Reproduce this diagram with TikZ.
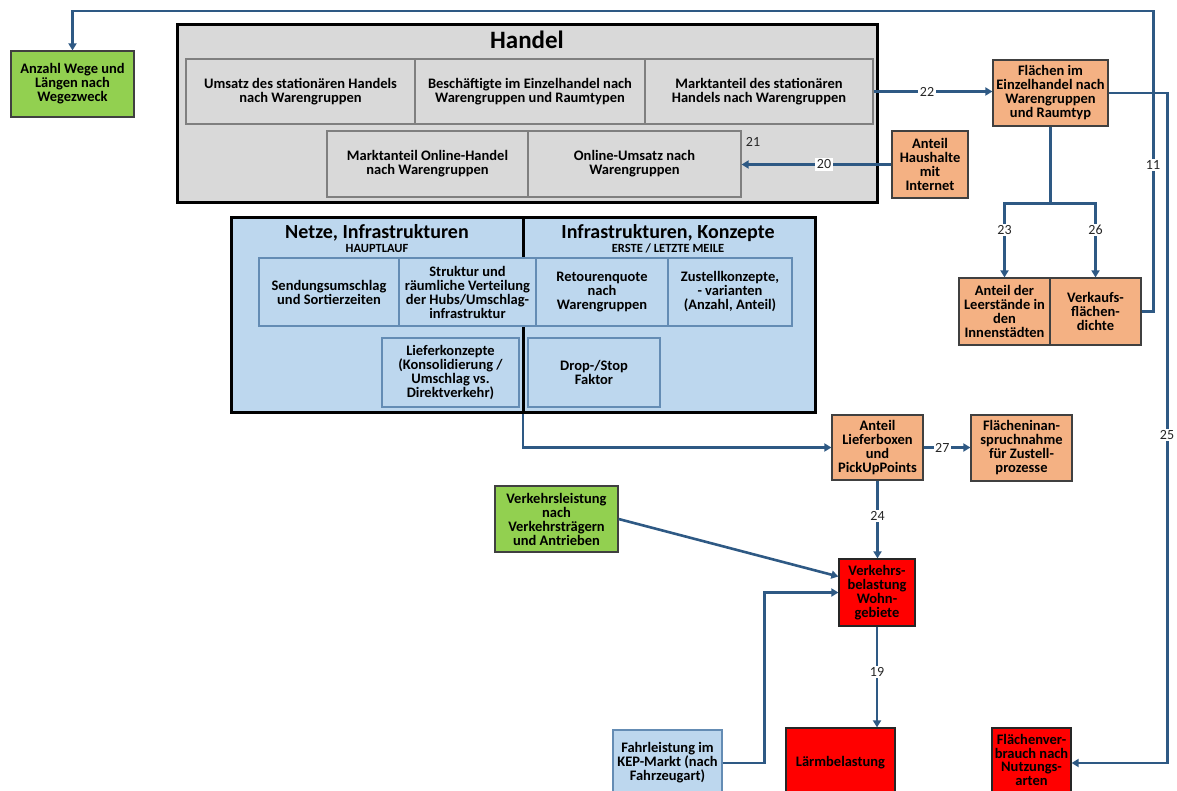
\documentclass[tikz,border=0pt]{standalone}
\usepackage{fontspec}
\setmainfont{Carlito}
\usetikzlibrary{arrows.meta}

\definecolor{handelgray}{HTML}{D9D9D9}
\definecolor{innergray}{HTML}{7F7F7F}
\definecolor{netzblue}{HTML}{BDD7EE}
\definecolor{netzline}{RGB}{100,140,180}
\definecolor{orangefill}{HTML}{F4B183}
\definecolor{greenfill}{HTML}{92D050}
\definecolor{redfill}{HTML}{FF0000}
\definecolor{darkline}{HTML}{404040}
\definecolor{flowblue}{RGB}{46,89,132}

\begin{document}
\begin{tikzpicture}[x=1pt,y=-1pt,
  box/.style={draw, rectangle, inner sep=1pt, align=center, line width=1.2pt,
    font=\bfseries\fontsize{14.5}{14}\selectfont, text=black},
  gbox/.style={box, fill=handelgray, draw=innergray},
  nbox/.style={box, fill=netzblue, draw=netzline},
  obox/.style={box, fill=orangefill, draw=darkline},
  grbox/.style={box, fill=greenfill, draw=darkline},
  rbox/.style={box, fill=redfill, draw=black!85},
  frame/.style={draw=black, line width=3pt, inner sep=0pt},
  title/.style={font=\bfseries\fontsize{20}{20}\selectfont, inner sep=0pt},
  subtitle/.style={font=\bfseries\fontsize{12.5}{12}\selectfont, inner sep=0pt},
  flow/.style={draw=flowblue, line width=2.6pt},
  arr/.style={flow, -{Triangle[length=7pt,width=8pt]}},
  lbl/.style={fill=white, inner sep=1.5pt, font=\fontsize{14}{14}\selectfont, text=black!85}
]
\useasboundingbox (0,0) rectangle (1177,791);

% ---- Handel block ----
\node[frame, fill=handelgray, minimum width=700pt, minimum height=178pt] (handel) at (527,114) {};
\node[font=\bfseries\fontsize{25}{25}\selectfont, inner sep=0pt] (handeltitle) at (527,40) {Handel};
\node[gbox, minimum width=229pt, minimum height=65pt] (umsatz) at (300.5,91.5) {Umsatz des stationären Handels\\nach Warengruppen};
\node[gbox, minimum width=230pt, minimum height=65pt] (besch) at (530,91.5) {Beschäftigte im Einzelhandel nach\\Warengruppen und Raumtypen};
\node[gbox, minimum width=228pt, minimum height=65pt] (markt) at (759,91.5) {Marktanteil des stationären\\Handels nach Warengruppen};
\node[gbox, minimum width=201pt, minimum height=66pt] (monl) at (427.5,164) {Marktanteil Online-Handel\\nach Warengruppen};
\node[gbox, minimum width=213pt, minimum height=66pt] (ousatz) at (634.5,164) {Online-Umsatz nach\\Warengruppen};

% ---- Netze / Infrastrukturen block ----
\node[frame, fill=netzblue, minimum width=584pt, minimum height=194pt] (netze) at (523,315) {};
\draw[line width=3pt] (netze.north) -- (netze.south);
\node[title] (nettitle) at (377,233) {Netze, Infrastrukturen};
\node[subtitle] (netsub) at (377,248) {HAUPTLAUF};
\node[title] (inftitle) at (668,233) {Infrastrukturen, Konzepte};
\node[subtitle] (infsub) at (668,248) {ERSTE / LETZTE MEILE};
\node[nbox, minimum width=140pt, minimum height=68pt] (sendung) at (329,292) {Sendungsumschlag\\und Sortierzeiten};
\node[nbox, minimum width=137pt, minimum height=68pt] (struktur) at (467.5,292) {Struktur und\\räumliche Verteilung\\der Hubs/Umschlag-\\infrastruktur};
\node[nbox, minimum width=132pt, minimum height=68pt] (retour) at (602,292) {Retourenquote\\nach\\Warengruppen};
\node[nbox, minimum width=124pt, minimum height=68pt] (zustell) at (730,292) {Zustellkonzepte,\\- varianten\\(Anzahl, Anteil)};
\node[nbox, minimum width=137pt, minimum height=69pt] (liefer) at (450.5,372.5) {Lieferkonzepte\\(Konsolidierung /\\Umschlag vs.\\Direktverkehr)};
\node[nbox, minimum width=132pt, minimum height=69pt] (drop) at (594,372.5) {Drop-/Stop\\Faktor};

% ---- single boxes ----
\node[grbox, minimum width=123pt, minimum height=66pt] (anz) at (72.5,84) {Anzahl Wege und\\Längen nach\\Wegezweck};
\node[obox, minimum width=76pt, minimum height=67pt] (haush) at (930,164.5) {Anteil\\Haushalte\\mit\\Internet};
\node[obox, minimum width=115pt, minimum height=66pt] (flaech) at (1050.5,93) {Flächen im\\Einzelhandel nach\\Warengruppen\\und Raumtyp};
\node[obox, minimum width=91pt, minimum height=67pt] (leer) at (1004.5,311.5) {Anteil der\\Leerstände in\\den\\Innenstädten};
\node[obox, minimum width=91pt, minimum height=67pt] (vkfd) at (1095.5,311.5) {Verkaufs-\\flächen-\\dichte};
\node[obox, minimum width=91pt, minimum height=65pt] (lbox) at (877.5,447.5) {Anteil\\Lieferboxen\\und\\PickUpPoints};
\node[obox, minimum width=101pt, minimum height=66pt] (flinan) at (1021.5,448) {Flächeninan-\\spruchnahme\\für Zustell-\\prozesse};
\node[grbox, minimum width=123pt, minimum height=66pt] (vleist) at (556.5,519) {Verkehrsleistung\\nach\\Verkehrsträgern\\und Antrieben};
\node[rbox, minimum width=76pt, minimum height=67pt] (vbel) at (877,592.5) {Verkehrs-\\belastung\\Wohn-\\gebiete};
\node[nbox, minimum width=109pt, minimum height=66pt] (fahr) at (667.5,763) {Fahrleistung im\\KEP-Markt (nach\\Fahrzeugart)};
\node[rbox, minimum width=109pt, minimum height=70pt] (laerm) at (840.5,763) {Lärmbelastung};
\node[rbox, minimum width=79pt, minimum height=64pt, font=\bfseries\fontsize{14.5}{13.5}\selectfont] (flver) at (1031.5,760) {Flächenver-\\brauch nach\\Nutzungs-\\arten};

% ---- connectors ----
\draw[arr] (vkfd.east) -- ++(12,0) |- (1153,11) -| (anz.north);
\draw[arr] (markt.east) -- node[lbl, pos=0.45] {22} (markt.east -| flaech.west);
\draw[arr] (haush.west) -- node[lbl, pos=0.45] {20} (haush.west -| ousatz.east);
\node[lbl, fill=none] (n21) at (753,142) {21};
\draw[arr] (flaech.east) -- ++(59,0) |- ([yshift=-3pt]flver.east);
\path (flaech.south) ++(0,77) coordinate (split);
\draw[flow] (flaech.south) -- (split);
\draw[arr] (split) -| (leer.north);
\draw[arr] (split) -| (vkfd.north);
\draw[arr] (netze.south) |- (lbox.west);
\draw[arr] (lbox.east) -- node[lbl, pos=0.4] {27} (lbox.east -| flinan.west);
\draw[arr] (lbox.south) -- node[lbl, pos=0.45] {24} (lbox.south |- vbel.north);
\draw[arr] (vleist.east) -- ([yshift=16pt]vbel.west);
\draw[arr] (fahr.east) -- ++(42,0) |- (vbel.west);
\draw[arr] (vbel.south) -- node[lbl, pos=0.45] {19} (vbel.south |- laerm.north);

% ---- labels on the long runs ----
\node[lbl] (n11) at (1153,165) {11};
\node[lbl] (n25) at (1167,435) {25};
\node[lbl] (n23) at (1004.5,230) {23};
\node[lbl] (n26) at (1095.5,230) {26};
\end{tikzpicture}
\end{document}
